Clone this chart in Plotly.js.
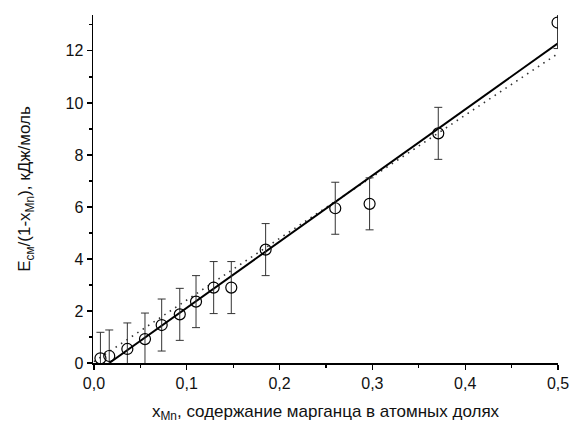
<!DOCTYPE html>
<html>
<head>
<meta charset="utf-8">
<script src="https://cdn.plot.ly/plotly-3.0.1.min.js"></script>
<style>html,body{margin:0;padding:0;background:#fff;}#chart{width:571px;height:426px;}</style>
</head>
<body>
<div id="chart"></div>
<script>
// Data
var xMn = [0.007, 0.0165, 0.036, 0.055, 0.073, 0.0925, 0.110, 0.129, 0.148, 0.185, 0.260, 0.297, 0.371, 0.4995];
var eRatio = [0.18, 0.27, 0.54, 0.92, 1.46, 1.87, 2.36, 2.90, 2.90, 4.36, 5.95, 6.12, 8.83, 13.09];
var eErr = [1.0, 1.0, 1.0, 1.0, 1.0, 1.0, 1.0, 1.0, 1.0, 1.0, 1.0, 1.0, 1.0, 1.0];
// Solid fit line endpoints
var fitSolidX = [0.0165, 0.503];
var fitSolidY = [0.0, 12.37];
// Dotted fit line endpoints
var fitDotX = [0.0, 0.503];
var fitDotY = [0.05, 11.97];

var xTicks = [0, 0.1, 0.2, 0.3, 0.4, 0.5];
var yTicks = [0, 2, 4, 6, 8, 10, 12];

var traces = [
  {x: fitDotX, y: fitDotY, mode: 'lines', line: {color: '#333', width: 1.6, dash: '1.5px,5px'}, hoverinfo: 'skip'},
  {x: fitSolidX, y: fitSolidY, mode: 'lines', line: {color: '#000', width: 2}, hoverinfo: 'skip'},
  {x: xMn, y: eRatio, mode: 'markers',
   marker: {symbol: 'circle-open', size: 11, color: '#000', line: {width: 1.2, color: '#000'}},
   error_y: {type: 'data', array: eErr, visible: true, color: '#333', thickness: 1, width: 4}}
];

var fam = 'Liberation Sans, Arial, sans-serif';
var layout = {
  width: 571, height: 426,
  margin: {l: 93, r: 13, t: 15, b: 63},
  paper_bgcolor: '#fff', plot_bgcolor: '#fff',
  showlegend: false,
  separators: ', ',
  font: {family: fam, size: 16, color: '#000'},
  xaxis: {
    range: [-0.001, 0.5], tickvals: xTicks, tickformat: '.1f',
    ticks: 'outside', ticklen: 5, tickwidth: 1.2, tickcolor: '#000',
    minor: {dtick: 0.05, ticks: 'outside', ticklen: 3, tickcolor: '#000'},
    showline: true, linecolor: '#000', linewidth: 1.5, showgrid: false, zeroline: false,
    tickfont: {size: 16, color: '#111'},
    title: {text: 'x<sub>Mn</sub>, содержание марганца в атомных долях', font: {size: 17, color: '#111'}, standoff: 14}
  },
  yaxis: {
    range: [0, 13.38], tickvals: yTicks,
    ticks: 'outside', ticklen: 5, tickwidth: 1.2, tickcolor: '#000',
    minor: {dtick: 1, ticks: 'outside', ticklen: 3, tickcolor: '#000'},
    showline: true, linecolor: '#000', linewidth: 1.5, showgrid: false, zeroline: false,
    tickfont: {size: 16, color: '#111'},
    title: {text: 'E<sub>см</sub>/(1-x<sub>Mn</sub>), кДж/моль', font: {size: 17, color: '#111'}, standoff: 30}
  }
};
Plotly.newPlot('chart', traces, layout, {staticPlot: true, displayModeBar: false});
</script>
</body>
</html>
